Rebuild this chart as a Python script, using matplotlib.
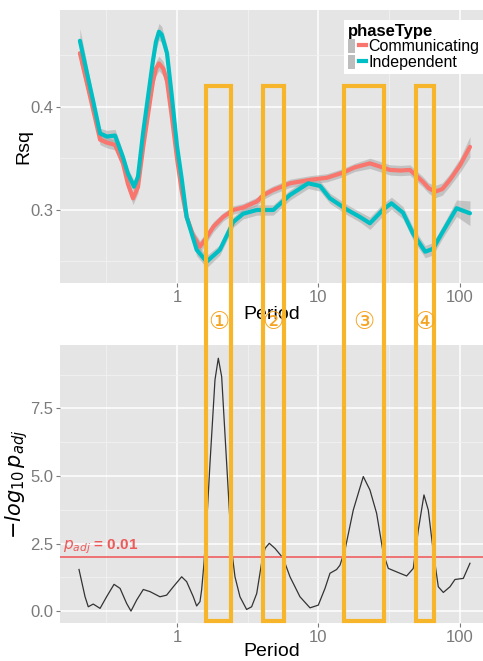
import matplotlib
matplotlib.use("Agg")
import matplotlib.pyplot as plt
from matplotlib.patches import Rectangle, Patch
from matplotlib.lines import Line2D
from matplotlib.legend_handler import HandlerTuple
from matplotlib.transforms import blended_transform_factory
from matplotlib.ticker import FixedLocator, NullFormatter

plt.rcParams['font.family'] = ['Liberation Sans', 'DejaVu Sans']
plt.rcParams['mathtext.fontset'] = 'dejavusans'

# ---------------- data ----------------
period_com = [0.206, 0.243, 0.286, 0.320, 0.365, 0.415, 0.45, 0.489, 0.53, 0.576,
              0.677, 0.71, 0.746, 0.80, 0.850, 0.92, 1.0, 1.08, 1.17, 1.30,
              1.45, 1.60, 1.81, 2.12, 2.5, 2.93, 3.67, 4.07, 4.77, 6.29,
              8.71, 11.48, 14.9, 18.0, 23.1, 27.0, 32.0, 38.0, 44.3, 54.8,
              60.0, 66.6, 75.0, 85.0, 100.0, 117.7]
rsq_com = [0.452, 0.41, 0.368, 0.365, 0.363, 0.345, 0.325, 0.311, 0.322, 0.36,
           0.425, 0.437, 0.442, 0.437, 0.425, 0.39, 0.350, 0.318, 0.293, 0.275,
           0.264, 0.272, 0.2835, 0.293, 0.2997, 0.302, 0.308, 0.314, 0.319, 0.3256,
           0.329, 0.331, 0.336, 0.341, 0.345, 0.342, 0.3386, 0.338, 0.3386, 0.327,
           0.321, 0.3175, 0.320, 0.329, 0.343, 0.361]
se_com = [0.010, 0.007, 0.005, 0.005, 0.005, 0.005, 0.006, 0.006, 0.006, 0.006,
          0.006, 0.007, 0.007, 0.007, 0.006, 0.005, 0.005, 0.005, 0.005, 0.005,
          0.006, 0.005, 0.005, 0.004, 0.004, 0.004, 0.004, 0.004, 0.004, 0.004,
          0.004, 0.004, 0.004, 0.004, 0.005, 0.005, 0.005, 0.005, 0.005, 0.005,
          0.005, 0.006, 0.006, 0.006, 0.007, 0.010]

period_ind = [0.206, 0.243, 0.256, 0.286, 0.320, 0.365, 0.415, 0.45, 0.497, 0.53,
              0.576, 0.677, 0.71, 0.746, 0.78, 0.850, 0.92, 1.0, 1.08, 1.17,
              1.378, 1.62, 2.01, 2.5, 2.93, 3.66, 4.79, 6.29, 8.46, 10.26,
              12.06, 15.9, 19.6, 23.1, 28.6, 32.8, 39.6, 46.5, 56.8, 64.5,
              75.9, 94.6, 117.7]
rsq_ind = [0.464, 0.419, 0.405, 0.374, 0.371, 0.372, 0.351, 0.335, 0.3223, 0.332,
           0.3745, 0.445, 0.463, 0.4728, 0.470, 0.452, 0.41, 0.362, 0.33, 0.293,
           0.261, 0.2495, 0.261, 0.288, 0.296, 0.2997, 0.2997, 0.3143, 0.3256, 0.323,
           0.311, 0.300, 0.293, 0.2868, 0.300, 0.3062, 0.297, 0.277, 0.2592, 0.262,
           0.279, 0.3014, 0.2965]
se_ind = [0.012, 0.007, 0.006, 0.005, 0.006, 0.006, 0.005, 0.005, 0.006, 0.006,
          0.006, 0.007, 0.008, 0.008, 0.008, 0.007, 0.006, 0.005, 0.005, 0.005,
          0.006, 0.006, 0.005, 0.005, 0.005, 0.005, 0.005, 0.005, 0.005, 0.005,
          0.005, 0.005, 0.005, 0.006, 0.006, 0.006, 0.006, 0.006, 0.006, 0.006,
          0.006, 0.008, 0.012]

period_p = [0.203, 0.224, 0.236, 0.256, 0.286, 0.318, 0.359, 0.396, 0.441, 0.473,
            0.519, 0.578, 0.645, 0.758, 0.845, 0.942, 1.079, 1.170, 1.304, 1.377,
            1.454, 1.493, 1.552, 1.621, 1.711, 1.856, 1.959, 2.069, 2.244, 2.434,
            2.570, 2.787, 3.106, 3.37, 3.66, 3.96, 4.19, 4.49, 4.93, 5.64,
            6.29, 7.40, 8.71, 9.97, 11.12, 12.06, 13.44, 14.19, 15.39, 17.62,
            20.74, 23.12, 25.76, 28.71, 31.16, 37.67, 41.99, 46.78, 50.77, 55.67,
            59.73, 64.80, 70.3, 76.3, 85.0, 92.2, 105.6, 117.7]
neglog_p = [1.54, 0.53, 0.16, 0.26, 0.10, 0.53, 0.99, 0.84, 0.28, 0.00,
            0.41, 0.80, 0.72, 0.53, 0.59, 0.90, 1.27, 1.09, 0.53, 0.19,
            0.35, 0.78, 1.77, 3.25, 5.47, 8.56, 9.36, 8.68, 5.47, 2.26,
            1.27, 0.53, 0.06, 0.16, 0.65, 1.77, 2.32, 2.51, 2.32, 1.95,
            1.27, 0.53, 0.12, 0.22, 0.84, 1.40, 1.54, 1.70, 2.26, 3.74,
            4.98, 4.48, 3.62, 2.14, 1.58, 1.40, 1.30, 1.58, 3.00, 4.30,
            3.74, 2.20, 0.90, 0.69, 0.90, 1.17, 1.21, 1.77]

threshold = 2.0  # -log10(0.01)
boxes = [(1.611, 2.42), (4.035, 5.676), (15.07, 28.9), (48.9, 65.2)]
box_labels = ['①', '②', '③', '④']

series_names = ['Communicating', 'Independent']
series_colors = ['#F8766D', '#00BFC4']

xticks = [1, 10, 100]
xtick_labels = ['1', '10', '100']
top_yticks = [0.3, 0.4]
top_ytick_labels = ['0.3', '0.4']
bot_yticks = [0.0, 2.5, 5.0, 7.5]
bot_ytick_labels = ['0.0', '2.5', '5.0', '7.5']

# ---------------- figure ----------------
W, H = 483, 661
fig = plt.figure(figsize=(W / 100, H / 100), dpi=100)
fig.patch.set_facecolor('white')

bg = '#E5E5E5'
tick_col = '#7A7A7A'


def style(ax, yticks, ylabels, yminor):
    ax.set_facecolor(bg)
    for s in ax.spines.values():
        s.set_visible(False)
    ax.set_xscale('log')
    ax.set_xlim(0.149, 145.5)
    ax.xaxis.set_major_locator(FixedLocator(xticks))
    ax.set_xticklabels(xtick_labels)
    ax.xaxis.set_minor_locator(FixedLocator([0.316, 3.16, 31.6]))
    ax.xaxis.set_minor_formatter(NullFormatter())
    ax.set_yticks(yticks)
    ax.set_yticklabels(ylabels)
    ax.yaxis.set_minor_locator(FixedLocator(yminor))
    ax.grid(which='major', color='white', lw=1.1)
    ax.grid(which='minor', color='#F2F2F2', lw=0.6)
    ax.set_axisbelow(True)
    ax.tick_params(which='major', length=3, width=0.8, color=tick_col,
                   labelcolor=tick_col, labelsize=12, pad=2)
    ax.tick_params(which='minor', length=0)


# top panel
ax1 = fig.add_axes([60 / W, 1 - 283 / H, 423 / W, 273 / H])
style(ax1, top_yticks, top_ytick_labels, [0.25, 0.35, 0.45])
ax1.set_ylim(0.2288, 0.4939)

series = [(period_com, rsq_com, se_com), (period_ind, rsq_ind, se_ind)]
for (px, py, se), col in zip(series, series_colors):
    lo = [v - s for v, s in zip(py, se)]
    hi = [v + s for v, s in zip(py, se)]
    ax1.fill_between(px, lo, hi, color='#999999', alpha=0.45, lw=0, zorder=2)
for (px, py, se), col in zip(series, series_colors):
    ax1.plot(px, py, color=col, lw=3, solid_capstyle='round',
             solid_joinstyle='round', zorder=3)

ax1.set_xlabel('Period', fontsize=14, labelpad=1)
ax1.set_ylabel('Rsq', fontsize=14)
ax1.yaxis.set_label_coords(-0.066, 0.5)

handles = [(Patch(facecolor='#BDBDBD', edgecolor='none'),
            Line2D([], [], color=c, lw=3)) for c in series_colors]
leg = ax1.legend(handles, series_names, handler_map={tuple: HandlerTuple(ndivide=None)},
                 loc='upper right', bbox_to_anchor=(1.0, 0.965), title='phaseType',
                 fontsize=11.5, title_fontproperties={'weight': 'bold', 'size': 12},
                 frameon=True, fancybox=False, facecolor='white', edgecolor='none',
                 framealpha=1, borderpad=0.25, handlelength=1.1, handleheight=0.9,
                 handletextpad=0.15, labelspacing=0.05, borderaxespad=0.0,
                 alignment='left')

# bottom panel
ax2 = fig.add_axes([60 / W, 1 - 622.7 / H, 423 / W, (622.7 - 345) / H])
style(ax2, bot_yticks, bot_ytick_labels, [1.25, 3.75, 6.25, 8.75])
ax2.set_ylim(-0.43, 9.85)
ax2.plot(period_p, neglog_p, color='#333333', lw=0.9, zorder=3)
ax2.axhline(threshold, color='#F06A6A', lw=1.3, zorder=3)
ax2.text(0.156, threshold + 0.05, r'$p_{adj}$' + ' = 0.01', color='#EE5A5A',
         fontsize=11, fontweight='bold', va='bottom', ha='left', zorder=4)
ax2.set_xlabel('Period', fontsize=14, labelpad=-1)
ax2.set_ylabel(r'$-\mathit{log}_{10}\,\mathit{p}_{adj}$', fontsize=15)
ax2.yaxis.set_label_coords(-0.072, 0.5)

# highlighted boxes spanning both panels
trans = blended_transform_factory(ax2.transData, fig.transFigure)
y_bot, y_top = 1 - 620.7 / H, 1 - 86 / H
box_col = '#F7B52C'
for (x0, x1), lab in zip(boxes, box_labels):
    r = Rectangle((x0, y_bot), x1 - x0, y_top - y_bot, transform=trans,
                  fill=False, edgecolor=box_col, lw=3, zorder=10, clip_on=False)
    fig.add_artist(r)
    xc = (x0 * x1) ** 0.5
    fig.text(xc, 1 - 322 / H, lab, transform=trans, ha='center', va='center',
             color='#F5A524', fontsize=17, family=['DejaVu Sans', 'Noto Sans CJK SC'],
             zorder=11)

fig.savefig('out.png', dpi=100, facecolor='white')
